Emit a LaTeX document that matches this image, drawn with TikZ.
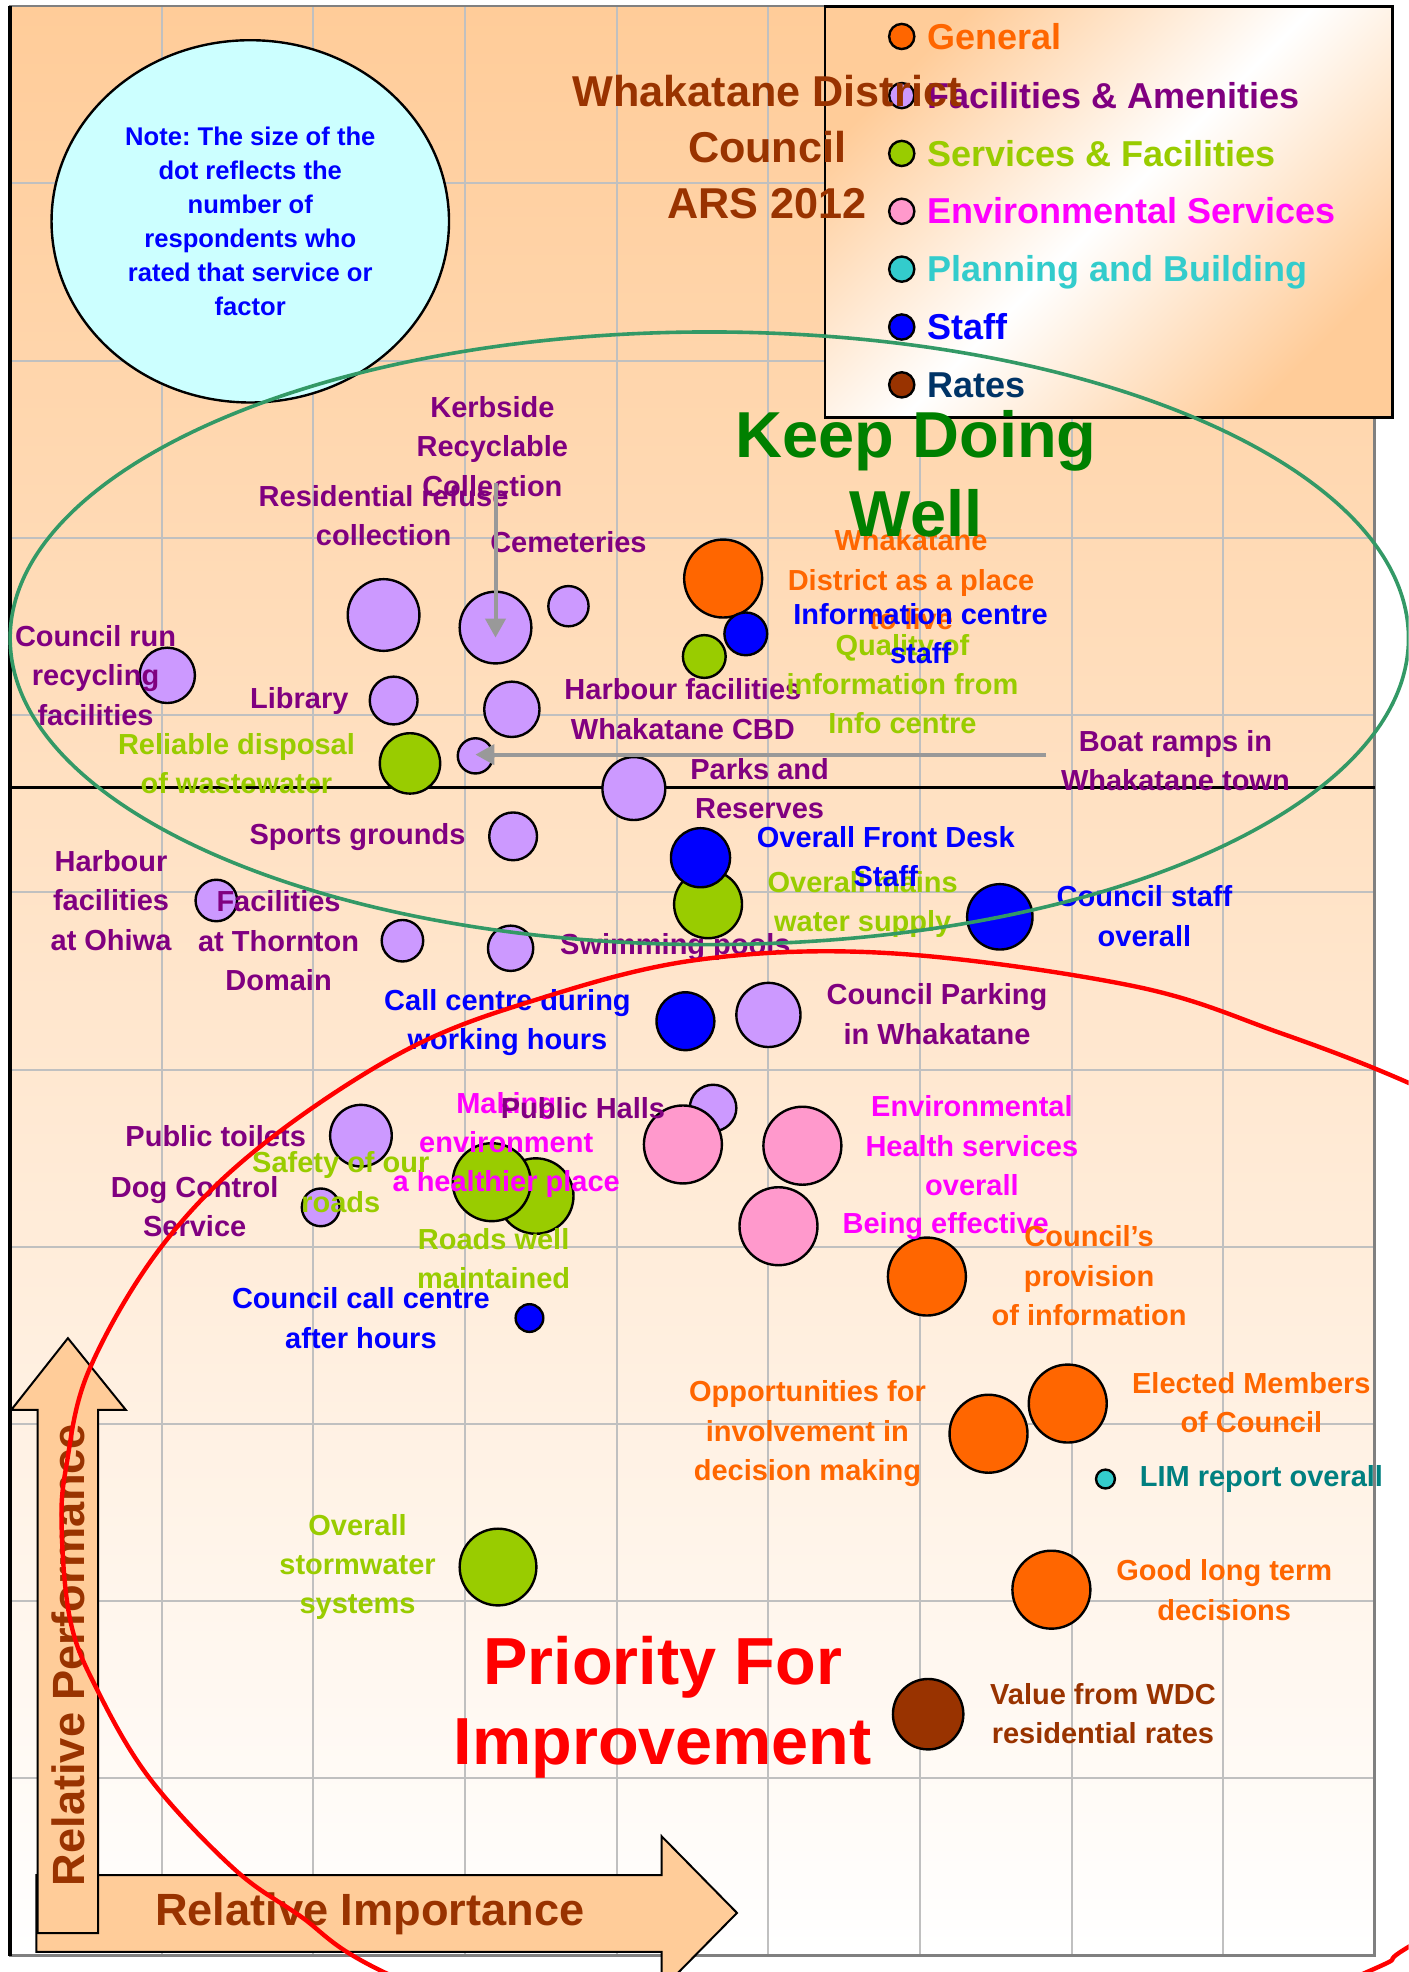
\documentclass[tikz,border=0pt]{standalone}
\usepackage{fontspec}
\setmainfont{Liberation Sans}
\usetikzlibrary{arrows.meta,shapes.geometric}
\definecolor{peach}{HTML}{FFCC99}
\definecolor{gridc}{HTML}{C0C0C0}
\definecolor{framec}{HTML}{808080}
\definecolor{notefill}{HTML}{CCFFFF}
\definecolor{cOrange}{HTML}{FF6600}
\definecolor{cPurple}{HTML}{800080}
\definecolor{cLav}{HTML}{CC99FF}
\definecolor{cLime}{HTML}{99CC00}
\definecolor{cMag}{HTML}{FF00FF}
\definecolor{cPink}{HTML}{FF99CC}
\definecolor{cCyan}{HTML}{33CCCC}
\definecolor{cTeal}{HTML}{008080}
\definecolor{cBlue}{HTML}{0000FF}
\definecolor{cBrown}{HTML}{993300}
\definecolor{cNavy}{HTML}{003366}
\definecolor{cGreen}{HTML}{008000}
\definecolor{cSea}{HTML}{339966}
\definecolor{cArrow}{HTML}{999999}
\newcommand{\bub}[5]{\node[bubble,fill=#2,minimum size={2*#3*0.62902pt}] (#1) at (#4,#5) {};}
\frenchspacing
\begin{document}
\begin{tikzpicture}[x=0.62902pt,y=-0.62902pt,
 bubble/.style={circle,draw=black,line width=1.2pt,inner sep=0pt},
 lab/.style={font=\fontsize{14.5}{19.7}\selectfont\bfseries,align=center,inner sep=0pt},
 legtxt/.style={font=\fontsize{18}{21}\selectfont\bfseries,anchor=base west,inner sep=0pt},
 legdot/.style={circle,draw=black,line width=1.2pt,inner sep=0pt,minimum size=12.6pt},
 gridline/.style={gridc,line width=1pt},
 pointer/.style={cArrow,line width=2pt,-{Triangle[length=9.5pt,width=10pt]}},
 axisarrow/.style={fill=peach,draw=black,line width=1pt},
 axistxt/.style={font=\fontsize{22.6}{26}\selectfont\bfseries,text=cBrown,inner sep=0pt}]
\useasboundingbox (0,0) rectangle (1120,1568);
\clip (0,0) rectangle (1120,1568);
\fill[white] (0,0) rectangle (1120,1568);
% plot area
\shade[top color=peach,bottom color=white] (8,5) rectangle (1093,1555);
\foreach \i in {1,...,8} \draw[gridline] ({8+120.6*\i},5) -- ({8+120.6*\i},1555);
\foreach \j in {1,...,10} \draw[gridline] (8,{5+140.9*\j}) -- (1093,{5+140.9*\j});
\draw[framec,line width=1.2pt] (8,5) rectangle (1093,1555);
\draw[black,line width=1.4pt] (8,626) -- (1093,626);
\draw[black,line width=1.6pt] (8,5) -- (8,1555);
% note
\node[ellipse,draw=black,line width=1.2pt,fill=notefill,minimum width=198.8pt,minimum height=181.2pt,inner sep=0pt,align=center,font=\fontsize{12.8}{17}\selectfont\bfseries,text=cBlue] (note) at (199,176) {Note: The size of the\\dot reflects the\\number of\\respondents who\\rated that service or\\factor};
% legend
\node[rectangle,draw=black,line width=1.3pt,top color=peach,bottom color=peach,middle color=white,shading angle=45,minimum width=283.7pt,minimum height=205.7pt,inner sep=0pt] (legend) at (881.5,168.5) {};
\node[legdot,fill=cOrange] (d1) at (717,29) {};
\node[legtxt,text=cOrange] (t1) at (737,39) {General};
\node[legdot,fill=cLav] (d2) at (717,76) {};
\node[legtxt,text=cPurple] (t2) at (737,86) {Facilities \& Amenities};
\node[legdot,fill=cLime] (d3) at (717,122) {};
\node[legtxt,text=cLime] (t3) at (737,132) {Services \& Facilities};
\node[legdot,fill=cPink] (d4) at (717,168) {};
\node[legtxt,text=cMag] (t4) at (737,178) {Environmental Services};
\node[legdot,fill=cCyan] (d5) at (717,214) {};
\node[legtxt,text=cCyan] (t5) at (737,224) {Planning and Building};
\node[legdot,fill=cBlue] (d6) at (717,260) {};
\node[legtxt,text=cBlue] (t6) at (737,270) {Staff};
\node[legdot,fill=cBrown] (d7) at (717,306) {};
\node[legtxt,text=cNavy] (t7) at (737,316) {Rates};
% title
\node[font=\fontsize{21.6}{28}\selectfont\bfseries,text=cBrown,align=center,inner sep=0pt] (title) at (610,117) {Whakatane District\\Council\\ARS 2012};
% axis arrows
\draw[axisarrow] (29,1491) -- (526,1491) -- (526,1460) -- (586,1521) -- (526,1582) -- (526,1552) -- (29,1552) -- cycle;
\draw[axisarrow] (30,1537) -- (30,1121) -- (9,1121) -- (54,1064) -- (100,1121) -- (78,1121) -- (78,1537) -- cycle;
\node[axistxt] (ri) at (294,1522) {Relative Importance};
\node[axistxt,rotate=90] (rp) at (54,1316) {Relative Performance};
% bubbles
\bub{bCouncilRun}{cLav}{22}{133}{537}
\bub{bResid}{cLav}{28.5}{305}{489}
\bub{bKerb}{cLav}{28.5}{394}{499}
\bub{bCem}{cLav}{16}{452}{482}
\bub{bLib}{cLav}{19}{313}{557}
\bub{bHarbCBD}{cLav}{22}{407}{564}
\bub{bReliable}{cLime}{24}{326}{607}
\bub{bBoat}{cLav}{14}{378}{601}
\bub{bParks}{cLav}{25}{504}{627}
\bub{bWhak}{cOrange}{31}{575}{460}
\bub{bInfo}{cBlue}{17}{593}{504}
\bub{bQual}{cLime}{17}{560}{522}
\bub{bSports}{cLav}{19}{408}{665}
\bub{bOhiwa}{cLav}{16.5}{172}{716}
\bub{bThorn}{cLav}{16.5}{320}{748}
\bub{bSwim}{cLav}{18}{406}{754}
\bub{bMains}{cLime}{27}{563}{719}
\bub{bFront}{cBlue}{23.5}{557}{682}
\bub{bStaff}{cBlue}{26}{795}{729}
\bub{bCallDay}{cBlue}{23}{545}{812}
\bub{bPark}{cLav}{25.5}{611}{807}
\bub{bHalls}{cLav}{18.5}{567}{881}
\bub{bMaking}{cPink}{31}{543}{910}
\bub{bEnvH}{cPink}{31}{638}{911}
\bub{bEff}{cPink}{31}{619}{975}
\bub{bToilets}{cLav}{24.5}{287}{903}
\bub{bDog}{cLav}{15}{255}{960}
\bub{bRoads}{cLime}{30}{426}{951}
\bub{bSafety}{cLime}{31}{391}{940}
\bub{bCallNight}{cBlue}{11}{421}{1048}
\bub{bProv}{cOrange}{31}{737}{1015}
\bub{bOpp}{cOrange}{31}{786}{1140}
\bub{bElected}{cOrange}{31}{849}{1116}
\bub{bLIM}{cCyan}{7.5}{879}{1176}
\bub{bStorm}{cLime}{30.5}{396}{1246}
\bub{bLong}{cOrange}{31}{836}{1264}
\bub{bRates}{cBrown}{28}{738}{1363}
% labels
\node[lab,text=cPurple] (lCouncilRun) at (76,537) {Council run\\recycling\\facilities};
\node[lab,text=cPurple] (lResid) at (305,410) {Residential refuse\\collection};
\node[lab,text=cPurple] (lKerb) at (391.5,355) {Kerbside\\Recyclable\\Collection};
\node[lab,text=cPurple] (lCem) at (452,431) {Cemeteries};
\node[lab,text=cPurple] (lLib) at (238,557) {Library};
\node[lab,text=cPurple] (lHarbCBD) at (543,564) {Harbour facilities\\Whakatane CBD};
\node[lab,text=cLime] (lReliable) at (188,607) {Reliable disposal\\of wastewater};
\node[lab,text=cPurple] (lBoat) at (934.6,605) {Boat ramps in\\Whakatane town};
\node[lab,text=cPurple] (lParks) at (604,627) {Parks and\\Reserves};
\node[lab,text=cOrange] (lWhak) at (724.4,461) {Whakatane\\District as a place\\to live};
\node[lab,text=cLime] (lQual) at (717.6,544) {Quality of\\information from\\Info centre};
\node[lab,text=cBlue] (lInfo) at (732,504) {Information centre\\staff};
\node[lab,text=cPurple] (lSports) at (284.3,665.5) {Sports grounds};
\node[lab,text=cPurple] (lOhiwa) at (88.3,716) {Harbour\\facilities\\at Ohiwa};
\node[lab,text=cPurple] (lThorn) at (221.5,748) {Facilities\\at Thornton\\Domain};
\node[lab,text=cPurple] (lSwim) at (537,753) {Swimming pools};
\node[lab,text=cLime] (lMains) at (686,719) {Overall mains\\water supply};
\node[lab,text=cBlue] (lFront) at (704.3,681) {Overall Front Desk\\Staff};
\node[lab,text=cBlue] (lStaff) at (910,728.5) {Council staff\\overall};
\node[lab,text=cBlue] (lCallDay) at (403.5,813) {Call centre during\\working hours};
\node[lab,text=cPurple] (lPark) at (745,806.5) {Council Parking\\in Whakatane};
\node[lab,text=cMag] (lMaking) at (402.5,910.5) {Making\\environment\\a healthier place};
\node[lab,text=cPurple] (lHalls) at (463.5,881) {Public Halls};
\node[lab,text=cMag] (lEnvH) at (772.8,911) {Environmental\\Health services\\overall};
\node[lab,text=cMag] (lEff) at (752,975) {Being effective};
\node[lab,text=cPurple] (lToilets) at (171.5,903) {Public toilets};
\node[lab,text=cPurple] (lDog) at (154.8,959.5) {Dog Control\\Service};
\node[lab,text=cLime] (lSafety) at (271,940) {Safety of our\\roads};
\node[lab,text=cLime] (lRoads) at (392.5,1001) {Roads well\\maintained};
\node[lab,text=cBlue] (lCallNight) at (287,1048) {Council call centre\\after hours};
\node[lab,text=cOrange] (lProv) at (866,1014.5) {Council’s\\provision\\of information};
\node[lab,text=cOrange] (lOpp) at (642,1140) {Opportunities for\\involvement in\\decision making};
\node[lab,text=cOrange] (lElected) at (995,1115.5) {Elected Members\\of Council};
\node[lab,text=cTeal] (lLIM) at (1003,1176) {LIM report overall};
\node[lab,text=cLime] (lStorm) at (284.3,1246) {Overall\\stormwater\\systems};
\node[lab,text=cOrange] (lLong) at (973.4,1264.5) {Good long term\\decisions};
\node[lab,text=cBrown] (lRates) at (877,1362.5) {Value from WDC\\residential rates};
% pointers
\coordinate (kerbFrom) at (394,384);
\coordinate (kerbTip) at (394,507);
\draw[pointer] (kerbFrom) -- (kerbTip);
\coordinate (boatFrom) at (832,600);
\coordinate (boatTip) at (378,600);
\draw[pointer] (boatFrom) -- (boatTip);
% quadrant titles
\node[font=\fontsize{32.5}{39.6}\selectfont\bfseries,text=cGreen,align=center,inner sep=0pt] (kdw) at (728.4,377) {Keep Doing\\Well};
\node[font=\fontsize{33.3}{39.6}\selectfont\bfseries,text=red,align=center,inner sep=0pt] (pfi) at (527,1357.5) {Priority For\\Improvement};
% ellipses
\draw[cSea,line width=1.8pt] (564,507.5) ellipse [x radius=349.7pt, y radius=153.2pt];
\draw[red,line width=2.2pt] plot[smooth cycle,tension=0.6] coordinates {(49,1214) (53,1164) (71,1089) (127,993) (204,914) (319,837) (426,795) (556,763) (709,758) (901,784) (1017,821) (1120,861) (1230,915) (1330,1050) (1370,1200) (1340,1350) (1250,1470) (1120,1548) (1087,1568) (900,1645) (700,1682) (500,1650) (305,1568) (238,1523) (185,1485) (119,1414) (77,1343) (56,1289)};
\end{tikzpicture}
\end{document}
